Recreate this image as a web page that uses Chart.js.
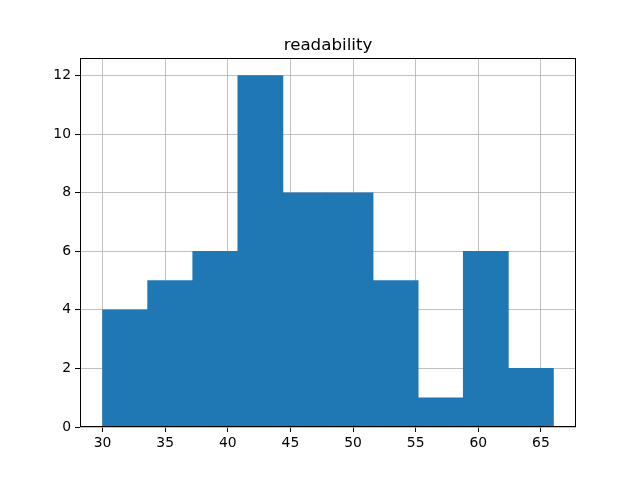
<!DOCTYPE html>
<html>
<head>
<meta charset="utf-8">
<script src="https://cdn.jsdelivr.net/npm/chart.js@4/dist/chart.umd.min.js"></script>
<style>
html,body{margin:0;padding:0;background:#fff;}
#wrap{width:640px;height:480px;position:relative;}
</style>
</head>
<body>
<div id="wrap"><canvas id="c" width="640" height="480"></canvas></div>
<script>
const title = "readability";
const binEdges = [30, 33.6, 37.2, 40.8, 44.4, 48, 51.6, 55.2, 58.8, 62.4, 66];
const counts = [4, 5, 6, 12, 8, 8, 5, 1, 6, 2];
const xTicks = [30, 35, 40, 45, 50, 55, 60, 65];
const yTicks = [0, 2, 4, 6, 8, 10, 12];
const xRange = [28.2, 67.8];
const yRange = [0, 12.6];

const points = counts.map((c, i) => ({x: (binEdges[i] + binEdges[i + 1]) / 2, y: c}));

const frame = {
  id: 'frame',
  afterDraw(chart) {
    const a = chart.chartArea, ctx = chart.ctx;
    ctx.save();
    ctx.strokeStyle = '#000';
    ctx.lineWidth = 1;
    ctx.strokeRect(Math.round(a.left) + 0.5, Math.round(a.top) + 0.5,
      Math.round(a.right - a.left) - 1, Math.round(a.bottom - a.top) - 1);
    ctx.fillStyle = '#000';
    ctx.font = '16.7px "DejaVu Sans"';
    ctx.textAlign = 'center';
    ctx.textBaseline = 'alphabetic';
    ctx.fillText(title, (a.left + a.right) / 2, a.top - 8.5);
    ctx.restore();
  }
};

const font = {family: 'DejaVu Sans', size: 13.9};

new Chart(document.getElementById('c'), {
  type: 'bar',
  data: {
    datasets: [{
      data: points,
      backgroundColor: '#1f77b4',
      borderWidth: 0,
      barPercentage: 1,
      categoryPercentage: 1
    }]
  },
  options: {
    responsive: false,
    animation: false,
    devicePixelRatio: 1,
    layout: {padding: {left: 0, right: 64, top: 58, bottom: 0}},
    plugins: {
      legend: {display: false},
      tooltip: {enabled: false},
      title: {display: false}
    },
    scales: {
      x: {
        type: 'linear', min: xRange[0], max: xRange[1], offset: false, z: 1,
        afterBuildTicks: s => { s.ticks = xTicks.map(v => ({value: v})); },
        afterFit: s => { s.height = 53; },
        grid: {offset: false, color: '#b0b0b0', lineWidth: 0.8, tickColor: '#000', tickLength: 5, tickWidth: 1},
        border: {display: false},
        ticks: {color: '#000', font: font, padding: 3, maxRotation: 0, autoSkip: false}
      },
      y: {
        type: 'linear', min: yRange[0], max: yRange[1], z: 1,
        afterBuildTicks: s => { s.ticks = yTicks.map(v => ({value: v})); },
        afterFit: s => { s.width = 80; },
        grid: {color: '#b0b0b0', lineWidth: 0.8, tickColor: '#000', tickLength: 5, tickWidth: 1},
        border: {display: false},
        ticks: {color: '#000', font: font, padding: 4, autoSkip: false}
      }
    }
  },
  plugins: [frame]
});
</script>
</body>
</html>
